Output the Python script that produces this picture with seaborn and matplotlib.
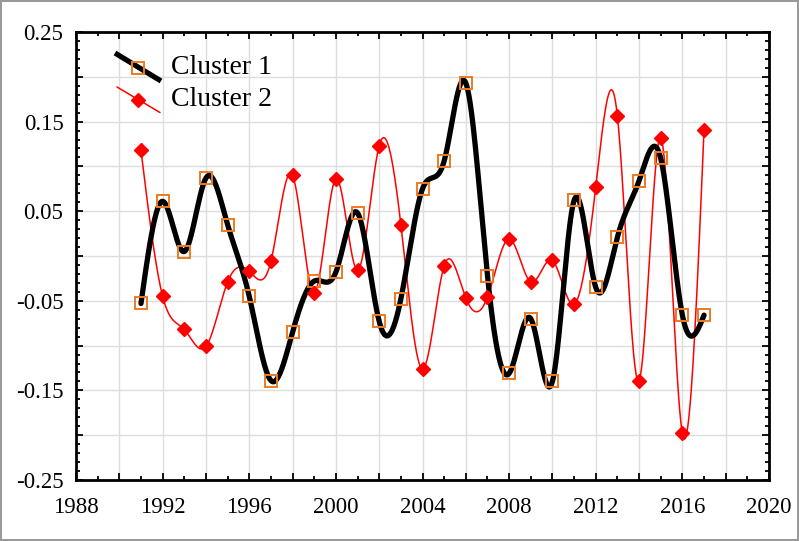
import numpy as np
import pandas as pd
import matplotlib
matplotlib.use("Agg")
import matplotlib.pyplot as plt
import seaborn as sns
from matplotlib.ticker import MultipleLocator, FuncFormatter

years = list(range(1991, 2018))
cluster1 = [-0.053, 0.061, 0.005, 0.087, 0.035, -0.045, -0.139, -0.085, -0.028, -0.018,
            0.048, -0.073, -0.048, 0.075, 0.106, 0.193, -0.022, -0.131, -0.070, -0.140,
            0.062, -0.035, 0.021, 0.084, 0.109, -0.066, -0.066]
cluster2 = [0.118, -0.045, -0.082, -0.101, -0.029, -0.017, -0.006, 0.090, -0.041, 0.086,
            -0.016, 0.123, 0.035, -0.126, -0.011, -0.047, -0.046, 0.019, -0.029, -0.005,
            -0.054, 0.077, 0.156, -0.139, 0.132, -0.198, 0.141]
series_names = ["Cluster 1", "Cluster 2"]
x_ticks = [1988, 1992, 1996, 2000, 2004, 2008, 2012, 2016, 2020]
y_ticks = [-0.25, -0.15, -0.05, 0.05, 0.15, 0.25]


def natural_spline(x, y, n=40):
    x = np.asarray(x, float)
    y = np.asarray(y, float)
    k = len(x)
    h = np.diff(x)
    A = np.zeros((k, k))
    b = np.zeros(k)
    A[0, 0] = 1
    A[-1, -1] = 1
    for i in range(1, k - 1):
        A[i, i - 1] = h[i - 1]
        A[i, i] = 2 * (h[i - 1] + h[i])
        A[i, i + 1] = h[i]
        b[i] = 3 * ((y[i + 1] - y[i]) / h[i] - (y[i] - y[i - 1]) / h[i - 1])
    c = np.linalg.solve(A, b)
    xs, ys = [], []
    for i in range(k - 1):
        bi = (y[i + 1] - y[i]) / h[i] - h[i] * (2 * c[i] + c[i + 1]) / 3
        di = (c[i + 1] - c[i]) / (3 * h[i])
        t = np.linspace(0, h[i], n, endpoint=(i == k - 2))
        xs.append(x[i] + t)
        ys.append(y[i] + bi * t + c[i] * t ** 2 + di * t ** 3)
    return np.concatenate(xs), np.concatenate(ys)


sns.set_style("white")
plt.rcParams["font.family"] = ["Liberation Serif", "DejaVu Serif"]
plt.rcParams["text.color"] = "black"

fig = plt.figure(figsize=(7.99, 5.41), dpi=100)
ax = fig.add_axes([76 / 799, 1 - 480 / 541, 693 / 799, 448 / 541])

df = pd.DataFrame({"year": years, "c1": cluster1, "c2": cluster2})
sx1, sy1 = natural_spline(df["year"], df["c1"])
sx2, sy2 = natural_spline(df["year"], df["c2"])

sns.lineplot(x=sx2, y=sy2, ax=ax, color="#ff0000", lw=1.1, zorder=3, sort=False)
sns.lineplot(x=sx1, y=sy1, ax=ax, color="black", lw=3.8, zorder=4, sort=False)
ax.plot(df["year"], df["c1"], ls="none", marker="s", ms=9, mfc="none",
        mec="#ee7a22", mew=1.4, zorder=5)
ax.plot(df["year"], df["c2"], ls="none", marker="D", ms=7.5, mfc="#ff0000",
        mec="#ff0000", zorder=6)

ax.set_xlim(1988, 2020)
ax.set_ylim(-0.25, 0.25)
ax.xaxis.set_major_locator(MultipleLocator(2))
ax.xaxis.set_minor_locator(MultipleLocator(1))
ax.xaxis.set_major_formatter(FuncFormatter(
    lambda v, p: f"{int(round(v))}" if int(round(v)) in x_ticks else ""))
ax.yaxis.set_major_locator(MultipleLocator(0.05))
ax.yaxis.set_minor_locator(MultipleLocator(0.01))
ax.yaxis.set_major_formatter(FuncFormatter(
    lambda v, p: f"{v:.2f}" if any(abs(v - t) < 1e-6 for t in y_ticks) else ""))
ax.grid(True, which="major", color="#dddddd", lw=1)
ax.tick_params(which="both", direction="in", top=True, right=True, bottom=True, left=True,
               labelsize=16.5, colors="black", labelcolor="black", width=1.3)
ax.tick_params(which="major", length=5)
ax.tick_params(axis="x", which="major", pad=12)
ax.tick_params(axis="y", which="major", pad=9)
ax.tick_params(which="minor", length=3)
for s in ax.spines.values():
    s.set_color("black")
    s.set_linewidth(2)
ax.set_xlabel("")
ax.set_ylabel("")

# legend
tr = ax.transAxes
def ax_pt(px, py):
    return ((px - 76) / 693, 1 - (py - 32) / 448)
(a1, b1), (a2, b2) = ax_pt(115, 53), ax_pt(161, 81)
ax.plot([a1, a2], [b1, b2], color="black", lw=3.8, transform=tr, zorder=7, solid_capstyle="butt")
m = ax_pt(138, 67.5)
ax.plot([m[0]], [m[1]], marker="s", ms=9, mfc="none", mec="#ee7a22", mew=1.4, transform=tr, zorder=8)
(a1, b1), (a2, b2) = ax_pt(117, 87), ax_pt(160, 112.5)
ax.plot([a1, a2], [b1, b2], color="#ff0000", lw=1.1, transform=tr, zorder=7)
m = ax_pt(138, 100)
ax.plot([m[0]], [m[1]], marker="D", ms=7.5, mfc="#ff0000", mec="#ff0000", transform=tr, zorder=8)
t = ax_pt(171, 68)
ax.text(t[0], t[1], series_names[0], transform=tr, fontsize=20, va="center", ha="left", color="black")
t = ax_pt(171, 100)
ax.text(t[0], t[1], series_names[1], transform=tr, fontsize=20, va="center", ha="left", color="black")

fig.patch.set_facecolor("white")
fig.patch.set_edgecolor("#999999")
fig.patch.set_linewidth(1.5)
fig.savefig("out.png", dpi=100, facecolor="white", edgecolor=fig.get_edgecolor())
